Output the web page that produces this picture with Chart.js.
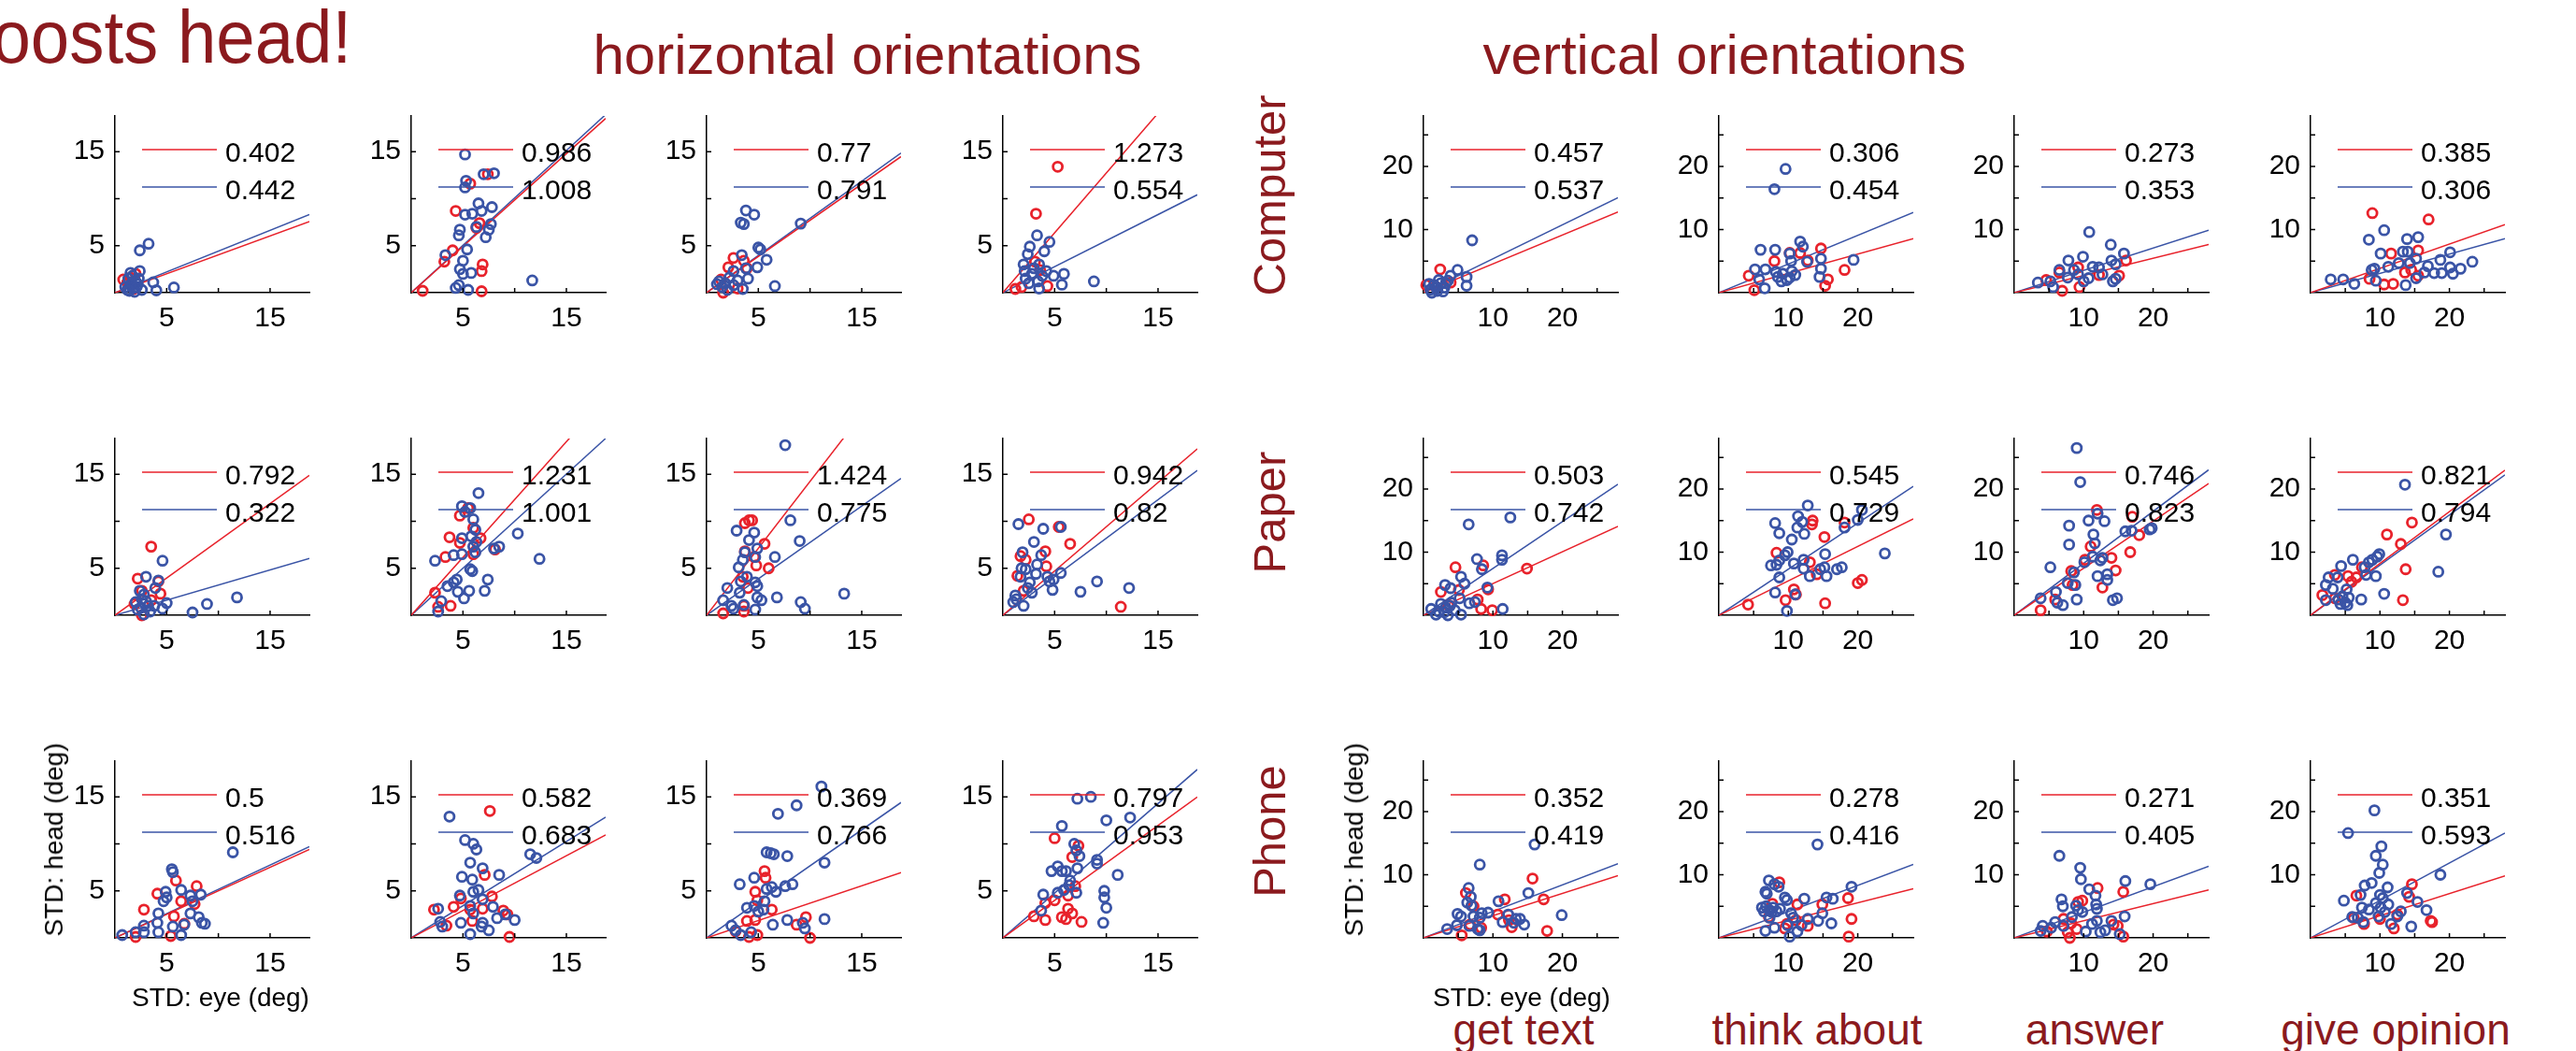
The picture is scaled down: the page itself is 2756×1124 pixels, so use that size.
<!DOCTYPE html>
<html>
<head>
<meta charset="utf-8">
<title>STD head vs STD eye</title>
<script src="https://cdn.jsdelivr.net/npm/chart.js@4.4.1/dist/chart.umd.min.js"></script>
<style>
  html, body { margin: 0; padding: 0; background: #fff; }
  #page { position: relative; width: 2756px; height: 1124px; overflow: hidden;
          font-family: "Liberation Sans", Arial, sans-serif; }
  .lbl { position: absolute; white-space: nowrap; line-height: 1; color: #000; }
  .title { color: #8b1a1e; }
  canvas { position: absolute; }
</style>
</head>
<body>
<div id="page"></div>
<script>
// categories
const rowLabels = ["Computer", "Paper", "Phone"];
const columnLabels = ["get text", "think about", "answer", "give opinion"];

// tick values / labels (horizontal panels: cols 1-4, vertical panels: cols 5-8)
const horizMax = 18.8;
const horizTicks = [5, 10, 15];
const horizTickLabels = ["5", "", "15"];
const vertMax = 28;
const vertTicks = [5, 10, 15, 20, 25];
const vertTickLabels = ["", "10", "", "20", ""];

// fitted slopes shown in each legend, 8 panels per row
const computerRedSlope = [0.402, 0.986, 0.77, 1.273, 0.457, 0.306, 0.273, 0.385];
const computerBlueSlope = [0.442, 1.008, 0.791, 0.554, 0.537, 0.454, 0.353, 0.306];
const paperRedSlope = [0.792, 1.231, 1.424, 0.942, 0.503, 0.545, 0.746, 0.821];
const paperBlueSlope = [0.322, 1.001, 0.775, 0.82, 0.742, 0.729, 0.823, 0.794];
const phoneRedSlope = [0.5, 0.582, 0.369, 0.797, 0.352, 0.278, 0.271, 0.351];
const phoneBlueSlope = [0.516, 0.683, 0.766, 0.953, 0.419, 0.416, 0.405, 0.593];

// [STD eye, STD head] per subject, 8 panels per row
const computerRed = [
  [[0.8,1.4],[1.5,1.6],[2.0,2.0],[1.2,1.1],[1.8,0.4]],
  [[1.1,0.2],[4.3,8.7],[5.7,11.6],[7.4,12.6],[6.3,6.9],[6.6,7.4],[4.0,4.5],[3.2,3.3],[6.9,3.0],[6.8,2.3],[6.8,0.15]],
  [[2.6,3.7],[2.1,2.7],[1.4,1.4],[1.6,0],[3.0,0.45],[3.6,3.4],[3.9,2.6]],
  [[5.3,13.4],[3.2,8.4],[1.2,0.4],[1.8,0.6],[4.3,0.7],[3.1,3.3],[3.6,2.4]],
  [[2.4,3.7],[0.4,1.2],[3.9,1.6],[1.8,0.9]],
  [[4.3,2.7],[5.1,0.4],[8.0,5.0],[10.2,6.3],[11.7,6.3],[14.7,7.0],[12.8,5.1],[15.7,2.1],[15.3,1.1],[18.1,3.6]],
  [[6.9,0.3],[9.4,0.9],[16.1,5.1],[15.1,2.7],[4.6,2.0],[6.5,3.2],[9.2,4.0],[12.2,2.8]],
  [[8.9,12.6],[17.0,11.6],[11.6,6.2],[15.5,6.7],[8.5,2.2],[10.6,1.3],[11.9,1.4],[13.6,3.2],[15.5,2.7],[14.5,3.6]]
];
const computerBlue = [
  [[3.25,5.2],[2.4,4.5],[2.4,2.3],[1.5,2.1],[3.7,1.1],[5.7,0.55],[4.0,0.25],[2.6,0.3],[1.2,0.3],[1.5,0.8],[1.8,0.5],[2.0,1.2],[1.3,1.5],[1.7,1.8],[2.2,0.9],[1.0,0.6],[1.9,0.1],[1.6,1.0],[2.3,1.5],[1.4,0.2],[2.1,0.6]],
  [[5.2,14.7],[5.3,11.9],[5.2,11.2],[7.0,12.6],[8.0,12.7],[6.5,9.5],[7.8,9.1],[6.8,8.7],[5.9,8.4],[5.2,8.3],[7.7,7.3],[7.5,6.7],[4.7,6.7],[4.6,6.1],[6.3,7.0],[7.2,5.9],[5.4,4.6],[3.3,4.0],[5.0,3.4],[4.7,2.5],[5.0,2.0],[5.8,2.1],[4.6,0.8],[4.3,0.5],[5.5,0.3],[11.7,1.3]],
  [[3.8,8.75],[4.6,8.3],[3.3,7.45],[3.6,7.3],[9.1,7.35],[5.0,4.8],[5.2,4.6],[3.4,4.0],[5.8,3.5],[4.9,2.7],[3.8,2.6],[2.6,2.3],[4.0,1.5],[6.6,0.7],[3.5,0.4],[1.2,1.2],[1.8,1.0],[2.2,1.6],[1.5,0.6],[2.6,0.8],[3.0,1.3],[2.0,0.3],[1.0,0.9]],
  [[3.3,6.1],[4.5,5.4],[2.6,4.9],[2.4,4.1],[4.0,4.4],[2.0,3.0],[3.5,3.0],[5.9,2.0],[4.9,1.8],[5.7,0.85],[8.8,1.2],[3.5,0.45],[2.2,1.5],[2.8,2.0],[3.4,1.2],[3.0,2.6],[2.5,1.0],[3.8,1.8],[4.2,2.3],[2.1,2.3]],
  [[7.0,8.3],[4.9,3.6],[6.2,2.5],[6.2,1.1],[3.9,2.7],[1,0.5],[1.5,1.2],[2,0.3],[2.5,1.5],[3,0.8],[1.2,0],[2.2,2.0],[3.5,1.9],[0.8,1.4],[1.8,0.9],[2.8,0.2],[3.2,1.5]],
  [[9.6,19.6],[8.0,16.4],[11.7,8.1],[12.1,7.3],[6.0,6.8],[8.1,6.8],[10.2,6.2],[10.4,5.0],[12.7,4.9],[14.7,5.4],[19.4,5.2],[5.2,3.7],[6.7,3.7],[14.7,3.8],[14.5,2.5],[5.8,2.1],[6.6,0.7],[8.5,2.5],[9.2,3.0],[9.8,2.0],[10.5,3.4],[9.0,1.8],[11,2.8],[8.2,3.3],[10.2,2.4]],
  [[10.8,9.6],[13.9,7.6],[15.8,6.2],[9.9,5.7],[7.8,5.1],[14.0,5.1],[14.6,4.5],[11.3,4.1],[12.2,4.0],[6.5,3.6],[8.6,3.6],[9.2,2.9],[7.7,2.4],[12.7,2.9],[3.4,1.6],[5.2,1.8],[5.6,0.9],[14.2,1.8],[14.6,2.2],[10.7,2.3],[10.0,1.8]],
  [[10.6,9.9],[8.4,8.4],[13.9,8.5],[15.5,8.8],[10.1,6.2],[13.3,6.5],[14.0,6.5],[20.1,6.4],[18.7,5.2],[23.3,4.9],[15.2,5.4],[14.3,4.7],[12.7,4.7],[11.2,4.1],[16.9,4.2],[20.1,4.0],[21.6,3.8],[9.2,3.8],[8.8,3.6],[17.8,3.1],[18.9,3.1],[20.5,3.0],[16.4,3.2],[2.9,2.1],[4.7,2.1],[6.3,1.4],[9.4,1.9],[13.7,1.2],[15.2,2.3]]
];
const paperRed = [
  [[3.5,7.3],[2.2,3.9],[4.2,3.6],[4.4,2.3],[2.6,2.6],[1.9,1.2],[2.6,0],[3.5,1.6]],
  [[4.7,10.6],[5.5,11.4],[6.0,9.3],[3.7,8.3],[4.7,7.7],[6.7,8.2],[3.3,6.2],[6.0,6.5],[8.1,7.0],[2.3,2.4],[3.8,1.0],[2.6,0.9]],
  [[3.7,9.8],[4.1,10.1],[4.4,10.1],[5.6,7.6],[3.7,6.8],[4.6,6.2],[4.8,5.3],[6.0,5.0],[3.5,4.1],[4.0,2.9],[1.6,0.2],[3.6,0.4],[3.6,1.0]],
  [[2.5,10.2],[6.5,7.6],[1.7,6.3],[2.2,5.9],[4.1,6.8],[4.2,5.2],[1.4,4.2],[5.4,9.4],[2.0,2.6],[11.4,0.9]],
  [[4.6,7.6],[8.6,7.9],[14.9,7.4],[2.5,3.7],[5.1,4.0],[9.3,4.1],[7.8,2.5],[8.3,1.0],[9.9,0.8],[3.6,1.6]],
  [[13.5,15.0],[13.4,14.4],[18.1,14.7],[15.2,12.4],[8.3,9.9],[13.1,8.4],[14.1,6.5],[20.0,5.1],[20.6,5.6],[10.8,4.1],[11.1,3.3],[9.6,2.4],[4.2,1.7],[15.3,1.9]],
  [[11.9,16.7],[17.0,15.6],[18.0,12.7],[16.7,10.0],[11.0,10.9],[14.0,9.1],[14.6,7.1],[8.2,7.0],[8.4,4.8],[12.7,4.4],[5.9,2.5],[3.8,0.8],[10.2,8.8]],
  [[14.6,14.7],[11.0,12.8],[13.0,11.3],[13.7,7.3],[13.3,2.4],[7.4,7.6],[6.6,6.0],[5.4,6.2],[5.9,5.3],[3.5,6.4],[1.7,3.2],[3.5,2.7]]
];
const paperBlue = [
  [[4.6,5.8],[3.0,4.1],[4.2,3.7],[3.9,2.9],[2.4,2.6],[2.8,2.2],[5.0,1.3],[4.6,0.7],[7.5,0.3],[8.9,1.2],[11.8,1.9],[2.0,1.4],[2.5,0.8],[3.0,1.5],[3.4,0.4],[2.8,0.1],[2.2,0.6],[3.8,1.0],[3.2,1.0],[2.6,1.7]],
  [[6.5,13.0],[4.9,11.6],[5.7,11.4],[5.2,11.0],[6.0,10.2],[6.2,9.1],[10.3,8.7],[4.9,8.2],[5.8,8.4],[6.3,7.8],[6.0,7.3],[8.0,7.1],[8.5,7.3],[4.9,6.5],[4.1,6.4],[6.2,6.7],[2.3,5.8],[12.4,6.0],[5.7,4.9],[5.9,4.7],[7.4,3.8],[4.4,3.8],[4.1,3.5],[3.5,3.1],[4.5,2.5],[7.1,2.6],[5.6,2.6],[5.1,1.8],[2.9,1.5],[2.6,0.4]],
  [[7.6,18.1],[8.1,10.1],[2.9,9.0],[4.6,8.8],[4.1,8.0],[9.0,7.9],[4.9,7.1],[3.7,6.7],[6.6,6.2],[4.7,6.2],[3.5,5.9],[3.1,5.1],[3.9,4.1],[3.3,3.6],[4.7,3.5],[4.9,3.1],[2.0,2.9],[3.2,2.4],[4.9,1.9],[5.3,1.6],[6.8,1.9],[1.6,1.6],[2.4,1.0],[3.6,1.1],[2.6,0.7],[4.7,0.6],[9.1,1.4],[9.5,0.7],[13.3,2.3]],
  [[1.5,9.7],[3.9,9.2],[5.6,9.4],[3.0,7.8],[1.9,6.7],[3.7,6.4],[3.3,5.4],[1.8,5.0],[2.2,4.9],[3.2,4.4],[1.7,4.1],[4.3,4.1],[4.9,3.8],[5.6,4.5],[4.5,3.6],[4.8,2.7],[2.6,3.5],[2.4,2.9],[2.8,2.4],[9.1,3.6],[12.2,2.9],[7.5,2.5],[1.2,2.1],[1.3,1.7],[1.0,1.4],[2.0,1.0]],
  [[6.5,14.4],[12.5,15.5],[11.3,9.5],[11.3,8.8],[7.7,8.9],[8.4,7.3],[5.4,6.1],[5.9,5.0],[3.1,4.8],[3.9,4.3],[9.2,4.4],[5.2,2.7],[6.6,1.9],[7.4,2.1],[1.1,1.0],[1.8,0.1],[3.5,0],[5.4,0.1],[11.4,1.0],[2.5,1.8],[3.2,1.2],[4.0,2.0],[4.5,0.8],[3.0,0.5],[3.8,1.5],[2.2,0.6]],
  [[12.8,17.4],[8.1,14.6],[11.4,15.7],[12.0,14.8],[8.7,13.0],[11.3,13.9],[12.3,12.9],[10.5,12.0],[18.1,13.9],[20.0,15.1],[20.6,16.7],[9.9,10.0],[9.5,9.5],[15.3,9.7],[23.9,9.8],[8.7,8.7],[7.5,7.9],[8.3,8.0],[10.8,8.2],[12.2,8.8],[12.2,7.4],[14.6,7.3],[15.2,7.6],[17.0,7.3],[17.7,7.6],[8.7,6.0],[13.1,6.2],[15.5,6.2],[8.1,3.6],[11.0,3.3],[9.8,0.7]],
  [[9.0,26.5],[9.5,21.1],[12.0,16.1],[10.7,15.0],[13.0,14.9],[7.9,14.2],[11.4,12.8],[7.9,11.2],[11.6,11.4],[16.0,13.3],[16.9,13.4],[19.5,13.6],[19.8,13.8],[10.1,8.4],[11.3,9.3],[12.4,8.7],[12.7,9.1],[5.2,7.6],[8.6,6.8],[12.0,6.2],[13.4,6.5],[13.4,5.6],[7.7,5.1],[8.8,4.8],[6.0,3.7],[6.2,2.0],[7.0,1.6],[3.8,2.7],[9.0,2.5],[14.2,2.4],[14.8,2.7]],
  [[13.6,20.7],[19.5,12.8],[18.4,6.9],[9.9,9.7],[9.6,9.3],[8.9,8.8],[8.4,8.4],[6.1,8.8],[4.4,7.8],[7.8,7.6],[9.4,6.2],[8.0,6.4],[2.6,6.0],[3.9,6.0],[2.2,4.8],[3.2,4.2],[5.2,4.1],[10.6,3.4],[7.3,2.5],[2.2,2.4],[5.3,1.6],[4,2.5],[4.6,3.0],[5,2.0],[5.5,2.8],[4.3,1.8]]
];
const phoneRed = [
  [[5.9,6.1],[7.9,5.5],[4.1,4.7],[6.4,3.9],[7.7,3.6],[2.8,3.0],[5.7,2.3],[6.7,1.5],[2.0,0.1],[5.4,0.2]],
  [[7.6,13.5],[7.1,6.7],[7.8,4.4],[4.8,4.2],[4.1,3.3],[2.2,3.0],[5.7,3.0],[6.9,3.1],[8.9,2.9],[9.3,2.5],[5.9,1.8],[3.4,1.3],[9.5,0.1]],
  [[5.6,7.1],[5.7,6.4],[4.7,4.9],[4.9,4.0],[6.3,3.0],[3.9,1.8],[4.7,1.9],[9.6,2.2],[8.7,1.4],[10.0,0],[4.9,0.3],[4.1,0.1],[2.8,0.7]],
  [[5.0,10.6],[7.3,9.8],[6.7,8.6],[7.0,5.5],[5.0,4.0],[4.1,3.7],[6.3,3.1],[6.7,2.6],[3.0,2.3],[4.1,1.9],[5.7,2.2],[6.1,2.0],[7.6,1.7],[6.3,4.5]],
  [[6.1,7.1],[15.7,9.4],[11.7,6.1],[17.3,6.1],[10.7,3.7],[12.3,2.8],[12.7,1.7],[17.8,1.1],[5.5,0.4],[6.7,2.1],[8.3,1.6],[7.2,5.0]],
  [[8.7,8.8],[11.3,5.3],[14.9,5.3],[18.6,6.3],[19.1,3.0],[18.7,0.2],[7.7,5.4],[7.2,3.3],[9.8,2.2],[12.8,1.9],[9.5,1.5],[11.1,2.8]],
  [[12.0,7.9],[15.7,7.3],[9.2,5.7],[9.8,5.9],[7.1,3.0],[8.2,2.3],[7.7,0.9],[8.0,0],[14.3,2.1],[14.9,1.9],[15.7,0.2],[4.7,1.0],[9.0,1.4]],
  [[6.6,6.7],[14.6,8.5],[14.2,6.5],[17.3,2.7],[17.5,2.5],[12.0,1.5],[7.7,2.2],[10.0,3.0],[6.2,3.2],[12.5,3.7]]
];
const phoneBlue = [
  [[11.4,9.1],[5.5,7.3],[5.6,7.0],[6.4,5.1],[4.9,4.9],[5.0,4.3],[4.7,3.9],[7.3,4.5],[8.3,4.6],[7.5,3.9],[4.2,2.6],[7.3,2.6],[8.1,2.2],[8.7,1.5],[8.4,1.6],[4.1,1.6],[2.8,1.3],[5.6,1.2],[6.7,1.4],[2.8,0.6],[4.2,0.6],[2.0,0.6],[0.7,0.3],[6.4,0.3]],
  [[3.7,12.9],[5.2,10.4],[6.0,10.0],[6.3,9.4],[5.7,8.0],[6.9,7.4],[8.5,6.7],[4.9,6.5],[5.9,6.2],[11.5,8.9],[12.1,8.5],[6.5,5.1],[6.0,4.9],[4.7,4.5],[6.9,4.1],[7.9,3.3],[5.7,3.4],[6.0,2.6],[2.6,3.1],[8.3,2.1],[10.0,1.9],[9.1,2.5],[2.8,1.7],[3.0,1.2],[4.8,1.6],[6.9,1.6],[6.8,1.2],[7.5,0.8],[5.7,0.4]],
  [[11.1,16.1],[8.7,14.1],[6.9,13.2],[5.8,9.1],[6.2,9.0],[6.5,8.9],[7.8,8.7],[11.4,8.0],[3.2,5.7],[4.6,6.4],[5.8,5.2],[6.3,5.4],[6.7,4.9],[7.6,5.5],[8.3,5.7],[5.6,3.9],[3.9,3.2],[4.6,3.4],[5.0,2.8],[5.5,3.0],[7.8,1.9],[6.4,1.4],[11.4,2.0],[9.3,1.6],[9.5,1.0],[2.4,1.3],[2.8,0.8],[3.3,0.3],[4.3,0.6]],
  [[7.2,14.8],[8.5,15.0],[12.3,12.8],[10.0,12.5],[5.7,11.9],[6.9,10.0],[7.1,9.3],[7.4,8.7],[9.1,8.3],[9.1,7.9],[7.2,7.4],[5.3,7.6],[4.7,7.1],[5.7,7.1],[6.1,7.1],[11.1,6.7],[6.5,6.1],[6.4,5.6],[9.8,5.0],[9.8,4.3],[7.1,4.8],[5.9,5.1],[5.3,4.8],[3.9,4.6],[10.0,3.2],[3.7,2.9],[9.7,1.6]],
  [[16.0,14.8],[8.1,11.6],[15.1,7.1],[19.9,3.6],[6.5,7.9],[6.8,6.5],[6.3,5.6],[6.9,5.1],[4.9,3.8],[5.4,3.4],[7.2,3.4],[8.4,3.9],[9.3,4.0],[8.1,3.2],[10.8,5.8],[12.2,3.7],[11.4,2.5],[13.3,3.0],[13.9,3.0],[13.0,2.4],[14.5,2.1],[4.8,2.0],[3.4,1.4],[7.8,1.4],[8.1,1.2],[6.6,1.9]],
  [[14.2,14.8],[7.2,9.1],[8.0,8.5],[8.6,8.1],[6.7,7.3],[6.9,7.0],[9.5,6.4],[9.8,6.0],[12.3,6.2],[15.5,6.4],[16.4,6.2],[19.1,8.1],[6.2,4.8],[6.8,5.0],[7.3,4.4],[7.8,4.8],[8.3,4.2],[8.8,4.6],[6.5,4.2],[7.6,4.1],[7.3,3.2],[10.4,3.9],[10.7,3.2],[12.8,3.0],[14.3,2.7],[14.9,3.9],[16.2,2.3],[9.9,2.0],[8.0,1.6],[6.7,1.1],[11.9,2.0],[11.3,1.0],[10.2,0.2]],
  [[6.5,13.0],[9.5,11.1],[9.6,9.3],[16.0,9.0],[19.6,8.5],[10.8,7.7],[11.7,6.7],[6.8,6.1],[7.0,5.0],[11.8,5.3],[11.9,4.6],[8.9,5.1],[9.2,4.4],[9.8,4.1],[8.3,3.3],[15.9,3.4],[14.0,2.7],[11.9,2.7],[11.2,2.2],[5.9,2.5],[7.1,1.9],[4.1,1.9],[3.8,1.1],[5.3,1.6],[10.3,1.0],[12.4,0.9],[13.1,1.2],[15.2,0.6]],
  [[9.2,20.2],[5.4,16.6],[10.2,14.5],[9.4,13.0],[10.4,11.6],[9.9,10.3],[18.7,10.0],[11.1,8.0],[7.8,8.3],[8.8,8.7],[13.9,7.1],[7.2,6.8],[10.0,6.8],[10.4,6.3],[4.8,5.9],[15.4,5.7],[11.2,5.3],[9.4,5.5],[10.1,4.8],[7.4,4.8],[8.4,4.5],[16.7,4.4],[10.7,4.1],[13.0,4.2],[12.5,3.4],[6.0,3.3],[6.8,3.2],[9.8,3.4],[7.6,2.5],[11.6,2.2],[14.5,1.8]]
];

const rowsRed = [computerRed, paperRed, phoneRed];
const rowsBlue = [computerBlue, paperBlue, phoneBlue];
const rowsRedSlope = [computerRedSlope, paperRedSlope, phoneRedSlope];
const rowsBlueSlope = [computerBlueSlope, paperBlueSlope, phoneBlueSlope];

// layout (page pixels)
const axisLefts = [123, 440, 756, 1073, 1523, 1839, 2155, 2472];
const plotTops = [105, 450, 795];
const PLOT_W = 208, PLOT_H = 208;
const Y_AXIS_W = 70, X_AXIS_H = 60, PAD_T = 10, PAD_R = 12;

const RED = "#e8222b";
const BLUE = "#3a54a6";
const FONT = '"Liberation Sans", Arial, sans-serif';

Chart.defaults.font.family = FONT;
Chart.defaults.color = "#000";

const page = document.getElementById("page");

// inward MATLAB-style tick marks
const innerTicks = {
  id: "innerTicks",
  afterDraw(chart) {
    const { ctx, chartArea: a, scales: { x, y } } = chart;
    ctx.save();
    ctx.strokeStyle = "#000";
    ctx.lineWidth = 1.5;
    ctx.beginPath();
    x.ticks.forEach((t) => {
      const px = x.getPixelForValue(t.value);
      ctx.moveTo(px, a.bottom);
      ctx.lineTo(px, a.bottom - 5);
    });
    y.ticks.forEach((t) => {
      const py = y.getPixelForValue(t.value);
      ctx.moveTo(a.left, py);
      ctx.lineTo(a.left + 5, py);
    });
    ctx.stroke();
    ctx.restore();
  },
};

// legend: short coloured line + slope value, inside the plot
const slopeLegend = {
  id: "slopeLegend",
  afterDatasetsDraw(chart) {
    const { ctx, chartArea: a } = chart;
    const lines = chart.data.datasets.filter((d) => d.type === "line");
    ctx.save();
    lines.forEach((d, i) => {
      const y = a.top + 36 + 40 * i;
      ctx.strokeStyle = d.borderColor;
      ctx.lineWidth = 1.5;
      ctx.beginPath();
      ctx.moveTo(a.left + 29, y);
      ctx.lineTo(a.left + 109, y);
      ctx.stroke();
      ctx.fillStyle = "#000";
      ctx.font = "30px " + FONT;
      ctx.textBaseline = "alphabetic";
      ctx.fillText(d.label, a.left + 118, y + 13);
    });
    ctx.restore();
  },
};

function toXY(pts) {
  return pts.map(([x, y]) => ({ x, y }));
}

function makePanel(r, c) {
  const horiz = c < 4;
  const max = horiz ? horizMax : vertMax;
  const tickVals = horiz ? horizTicks : vertTicks;
  const tickLabs = horiz ? horizTickLabels : vertTickLabels;
  const redSlope = rowsRedSlope[r][c];
  const blueSlope = rowsBlueSlope[r][c];

  const W = Y_AXIS_W + PLOT_W + PAD_R;
  const H = PAD_T + PLOT_H + X_AXIS_H;
  const canvas = document.createElement("canvas");
  canvas.width = W;
  canvas.height = H;
  canvas.style.left = axisLefts[c] - Y_AXIS_W + "px";
  canvas.style.top = plotTops[r] - PAD_T + "px";
  canvas.style.width = W + "px";
  canvas.style.height = H + "px";
  page.appendChild(canvas);

  const axis = () => ({
    type: "linear",
    min: 0,
    max,
    afterBuildTicks: (s) => { s.ticks = tickVals.map((v) => ({ value: v })); },
    ticks: {
      callback: (v, i) => tickLabs[i],
      autoSkip: false,
      maxRotation: 0,
      font: { size: 30 },
      color: "#000",
    },
    grid: { display: false, drawTicks: false },
    border: { display: true, color: "#000", width: 1.5 },
  });
  const xAxis = axis();
  xAxis.ticks.padding = 10;
  xAxis.afterFit = (s) => { s.height = X_AXIS_H; };
  const yAxis = axis();
  yAxis.ticks.padding = 11;
  yAxis.afterFit = (s) => { s.width = Y_AXIS_W; };

  const pointStyle = (color) => ({
    pointStyle: "circle",
    pointRadius: 5,
    pointBorderWidth: 2.8,
    borderColor: color,
    backgroundColor: "rgba(0,0,0,0)",
    clip: false,
  });

  new Chart(canvas, {
    type: "scatter",
    data: {
      datasets: [
        Object.assign({ label: "blue", data: toXY(rowsBlue[r][c]) }, pointStyle(BLUE)),
        Object.assign({ label: "red", data: toXY(rowsRed[r][c]) }, pointStyle(RED)),
        {
          type: "line", label: String(redSlope),
          data: [{ x: 0, y: 0 }, { x: max, y: redSlope * max }],
          borderColor: RED, borderWidth: 1.5, pointRadius: 0, fill: false, clip: 0,
        },
        {
          type: "line", label: String(blueSlope),
          data: [{ x: 0, y: 0 }, { x: max, y: blueSlope * max }],
          borderColor: BLUE, borderWidth: 1.5, pointRadius: 0, fill: false, clip: 0,
        },
      ],
    },
    options: {
      responsive: false,
      animation: false,
      devicePixelRatio: 1,
      events: [],
      layout: { padding: { top: PAD_T, right: PAD_R, left: 0, bottom: 0 }, autoPadding: false },
      plugins: { legend: { display: false }, tooltip: { enabled: false } },
      scales: { x: xAxis, y: yAxis },
    },
    plugins: [innerTicks, slopeLegend],
  });
}

for (let r = 0; r < 3; r++) {
  for (let c = 0; c < 8; c++) makePanel(r, c);
}

// text outside the plots
function addText(text, cls, fs, x, baseline, align, squeeze) {
  const d = document.createElement("div");
  d.className = "lbl " + cls;
  d.textContent = text;
  d.style.fontSize = fs + "px";
  d.style.top = baseline - 0.8465 * fs + "px";
  if (align === "right") {
    d.style.right = 2756 - x + "px";
    if (squeeze) {
      d.style.transformOrigin = "right center";
      d.style.transform = "scaleX(" + squeeze + ")";
    }
  } else {
    d.style.left = x + "px";
    d.style.transform = "translateX(-50%)";
  }
  page.appendChild(d);
}
function addRotated(text, cls, fs, cx, cy) {
  const d = document.createElement("div");
  d.className = "lbl " + cls;
  d.textContent = text;
  d.style.fontSize = fs + "px";
  d.style.left = cx + "px";
  d.style.top = cy + "px";
  d.style.transform = "translate(-50%, -50%) rotate(-90deg)";
  page.appendChild(d);
}

addText("boosts head!", "title", 80, 376, 68, "right", 0.93);
addText("horizontal orientations", "title", 60, 928, 80, "center");
addText("vertical orientations", "title", 60, 1845, 80, "center");

const rowLabelCenters = [209, 548, 889];
rowLabels.forEach((t, i) => addRotated(t, "title", 49, 1358, rowLabelCenters[i]));

const columnLabelCenters = [1630, 1944, 2241, 2563];
columnLabels.forEach((t, i) => addText(t, "title", 46, columnLabelCenters[i], 1117, "center"));

addRotated("STD: head (deg)", "", 28, 58, 898);
addRotated("STD: head (deg)", "", 28, 1449, 898);
addText("STD: eye (deg)", "", 28, 236, 1077, "center");
addText("STD: eye (deg)", "", 28, 1628, 1077, "center");
</script>
</body>
</html>
